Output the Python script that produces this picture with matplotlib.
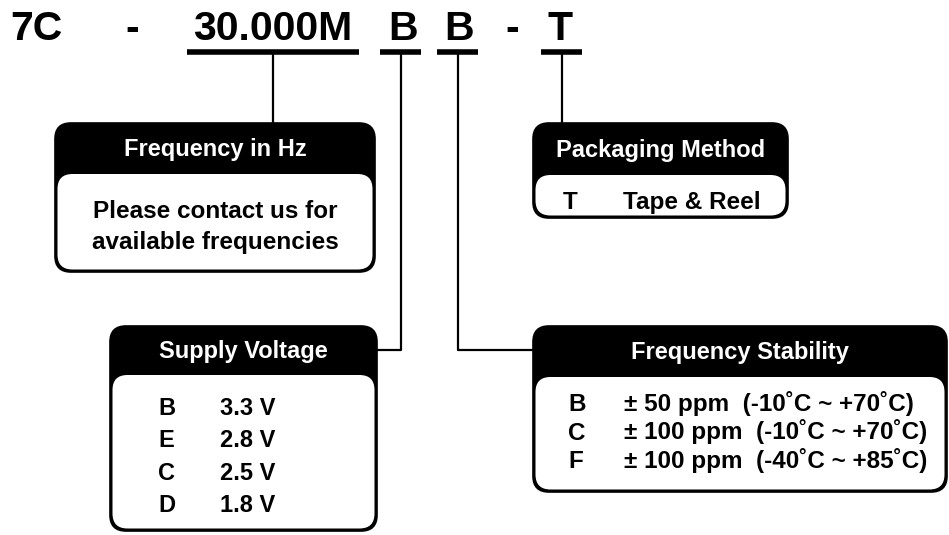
import matplotlib
matplotlib.use("Agg")
import matplotlib.pyplot as plt
from matplotlib.patches import FancyBboxPatch

plt.rcParams['font.family'] = ['Liberation Sans', 'DejaVu Sans']

# Part number pieces across the top
code_parts = ["7C", "-", "30.000M", "B", "B", "-", "T"]
code_x = [36, 132, 273, 403, 459, 512, 560]

# Option tables
freq_title = "Frequency in Hz"
freq_lines = ["Please contact us for", "available frequencies"]

pack_title = "Packaging Method"
pack_codes = ["T"]
pack_values = ["Tape & Reel"]

volt_title = "Supply Voltage"
volt_codes = ["B", "E", "C", "D"]
volt_values = ["3.3 V", "2.8 V", "2.5 V", "1.8 V"]

stab_title = "Frequency Stability"
stab_codes = ["B", "C", "F"]
stab_values = ["± 50 ppm  (-10˚C ~ +70˚C)",
               "± 100 ppm  (-10˚C ~ +70˚C)",
               "± 100 ppm  (-40˚C ~ +85˚C)"]

fig = plt.figure(figsize=(9.49, 5.35), dpi=100)
ax = fig.add_axes([0, 0, 1, 1])
ax.set_xlim(0, 949)
ax.set_ylim(535, 0)
ax.axis('off')

TITLE_FS = 17
BODY_FS = 17.5


def box(x0, y0, x1, y1, head_bottom, title):
    # black outer body with rounded corners
    ax.add_patch(FancyBboxPatch((x0, y0), x1 - x0, y1 - y0,
                                boxstyle="round,pad=0,rounding_size=16",
                                fc="black", ec="black", lw=1.2, zorder=2))
    # white inner panel
    ax.add_patch(FancyBboxPatch((x0 + 2.5, head_bottom), x1 - x0 - 5, y1 - head_bottom - 2.5,
                                boxstyle="round,pad=0,rounding_size=15",
                                fc="white", ec="none", zorder=3))
    ax.text((x0 + x1) / 2, (y0 + head_bottom) / 2 + 1, title, color="white",
            fontsize=TITLE_FS, fontweight="bold", ha="center", va="center", zorder=4)


def rows(codes, values, x_code, x_val, y0, step, fs=BODY_FS):
    for i, (c, v) in enumerate(zip(codes, values)):
        y = y0 + i * step
        ax.text(x_code, y, c, fontsize=fs, fontweight="bold",
                ha="left", va="baseline", zorder=4)
        ax.text(x_val, y, v, fontsize=fs, fontweight="bold",
                ha="left", va="baseline", zorder=4)


# top code text
for s, x in zip(code_parts, code_x):
    ax.text(x, 40, s, fontsize=29.5, fontweight="bold", ha="center",
            va="baseline", color="black")

# underlines
for xa, xb in [(187, 359), (380, 421), (437, 478), (541, 582)]:
    ax.plot([xa, xb], [52, 52], color="black", lw=4, solid_capstyle="butt")

# connectors
lw_c = 1.6
ax.plot([273, 273], [52, 125], color="black", lw=lw_c)
ax.plot([562, 562], [52, 125], color="black", lw=lw_c)
ax.plot([401, 401, 375], [52, 350, 350], color="black", lw=lw_c)
ax.plot([458, 458, 535], [52, 350, 350], color="black", lw=lw_c)

# Frequency in Hz
box(55, 123, 375, 272, 174, freq_title)
for i, line in enumerate(freq_lines):
    ax.text(215, 211 + i * 31, line, fontsize=BODY_FS, fontweight="bold",
            ha="center", va="center", zorder=4)

# Packaging Method
box(533, 123, 788, 218, 175, pack_title)
rows(pack_codes, pack_values, 563, 623, 209, 30)

# Supply Voltage
box(110, 326, 377, 531, 375, volt_title)
rows(volt_codes, volt_values, 158, 220, 415, 32.3, fs=17)

# Frequency Stability
box(533, 326, 947, 492, 377, stab_title)
rows(stab_codes, stab_values, 568, 624, 411, 28.5)

fig.savefig("out.png", dpi=100)
